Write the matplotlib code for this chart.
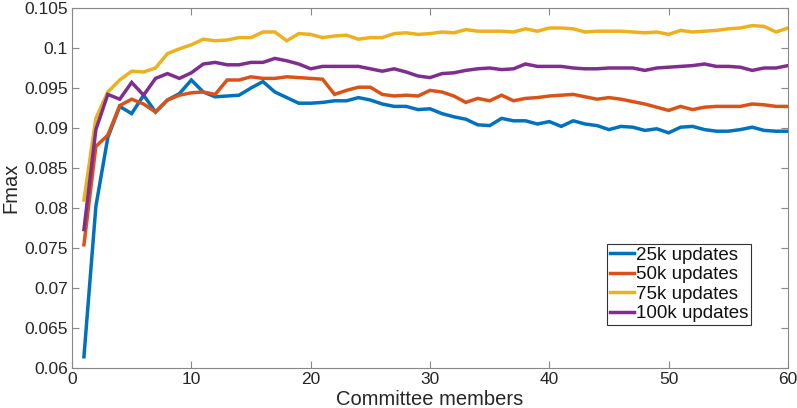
import matplotlib
matplotlib.use("Agg")
import matplotlib.pyplot as plt
import numpy as np

members = list(range(1, 61))

upd_25k = [0.0614, 0.0802, 0.0888, 0.0927, 0.0918, 0.0941, 0.0920, 0.0935, 0.0943, 0.0960,
           0.0945, 0.0939, 0.0940, 0.0941, 0.0950, 0.0958, 0.0945, 0.0938, 0.0931, 0.0931,
           0.0932, 0.0934, 0.0934, 0.0938, 0.0935, 0.0930, 0.0927, 0.0927, 0.0923, 0.0924,
           0.0918, 0.0914, 0.0911, 0.0904, 0.0903, 0.0912, 0.0909, 0.0909, 0.0905, 0.0908,
           0.0902, 0.0909, 0.0905, 0.0903, 0.0898, 0.0902, 0.0901, 0.0897, 0.0899, 0.0894,
           0.0901, 0.0902, 0.0898, 0.0896, 0.0896, 0.0898, 0.0901, 0.0897, 0.0896, 0.0896]

upd_50k = [0.0754, 0.0877, 0.0891, 0.0928, 0.0936, 0.0930, 0.0920, 0.0935, 0.0941, 0.0944,
           0.0945, 0.0942, 0.0960, 0.0960, 0.0964, 0.0962, 0.0962, 0.0964, 0.0963, 0.0962,
           0.0961, 0.0942, 0.0947, 0.0951, 0.0951, 0.0942, 0.0940, 0.0941, 0.0940, 0.0947,
           0.0945, 0.0940, 0.0932, 0.0937, 0.0934, 0.0941, 0.0934, 0.0937, 0.0938, 0.0940,
           0.0941, 0.0942, 0.0939, 0.0936, 0.0938, 0.0936, 0.0933, 0.0930, 0.0926, 0.0922,
           0.0927, 0.0923, 0.0926, 0.0927, 0.0927, 0.0927, 0.0930, 0.0929, 0.0927, 0.0927]

upd_75k = [0.0810, 0.0912, 0.0945, 0.0960, 0.0971, 0.0970, 0.0975, 0.0993, 0.0999, 0.1004,
           0.1011, 0.1009, 0.1010, 0.1013, 0.1013, 0.1020, 0.1020, 0.1009, 0.1018, 0.1017,
           0.1013, 0.1015, 0.1016, 0.1011, 0.1013, 0.1013, 0.1018, 0.1019, 0.1017, 0.1018,
           0.1020, 0.1019, 0.1023, 0.1021, 0.1021, 0.1021, 0.1020, 0.1024, 0.1021, 0.1025,
           0.1025, 0.1024, 0.1020, 0.1021, 0.1021, 0.1021, 0.1020, 0.1019, 0.1020, 0.1017,
           0.1022, 0.1020, 0.1021, 0.1022, 0.1024, 0.1025, 0.1028, 0.1027, 0.1020, 0.1025]

upd_100k = [0.0773, 0.0898, 0.0942, 0.0936, 0.0957, 0.0941, 0.0962, 0.0968, 0.0962, 0.0969,
            0.0980, 0.0982, 0.0979, 0.0979, 0.0982, 0.0982, 0.0987, 0.0984, 0.0980, 0.0974,
            0.0977, 0.0977, 0.0977, 0.0977, 0.0974, 0.0971, 0.0974, 0.0970, 0.0965, 0.0963,
            0.0968, 0.0969, 0.0972, 0.0974, 0.0975, 0.0973, 0.0974, 0.0980, 0.0977, 0.0977,
            0.0977, 0.0975, 0.0974, 0.0974, 0.0975, 0.0975, 0.0975, 0.0972, 0.0975, 0.0976,
            0.0977, 0.0978, 0.0980, 0.0977, 0.0977, 0.0976, 0.0972, 0.0975, 0.0975, 0.0978]

series_labels = ["25k updates", "50k updates", "75k updates", "100k updates"]
colors = ["#0072BD", "#D95319", "#EDB120", "#7E2F8E"]

x_ticks = [0, 10, 20, 30, 40, 50, 60]
y_ticks = [0.06, 0.065, 0.07, 0.075, 0.08, 0.085, 0.09, 0.095, 0.1, 0.105]
y_tick_labels = ["0.06", "0.065", "0.07", "0.075", "0.08", "0.085", "0.09", "0.095", "0.1", "0.105"]

plt.rcParams['font.family'] = ['Liberation Sans', 'DejaVu Sans']

fig = plt.figure(figsize=(7.97, 4.08), dpi=100)
ax = fig.add_axes([72/797, 40/408, 716/797, 360/408])

for vals, lab, col in zip([upd_25k, upd_50k, upd_75k, upd_100k], series_labels, colors):
    ax.plot(members, vals, color=col, lw=2.5, label=lab, solid_joinstyle='miter')

ax.set_xlim(0, 60)
ax.set_ylim(0.06, 0.105)
ax.set_xticks(x_ticks)
ax.set_yticks(y_ticks)
ax.set_yticklabels(y_tick_labels)

axcol = "#888888"
for sp in ax.spines.values():
    sp.set_color(axcol)
    sp.set_linewidth(0.8)
ax.tick_params(direction='in', top=True, right=True, length=5, width=0.8,
               color=axcol, labelsize=12.5, labelcolor="#262626", pad=3)

ax.set_xlabel("Committee members", fontsize=14.5, color="#262626", labelpad=2)
ax.set_ylabel("Fmax", fontsize=14.5, color="#262626", labelpad=3)

leg = ax.legend(loc='upper left', bbox_to_anchor=((607 - 72) / 716, (368 - 244) / 360),
                fontsize=13.5, handlelength=1.3, handletextpad=0.1, borderpad=0.15,
                labelspacing=0.12, fancybox=False, framealpha=1, borderaxespad=0)
leg.get_frame().set_edgecolor("#333333")
leg.get_frame().set_linewidth(0.8)
for t in leg.get_texts():
    t.set_color("#111111")

fig.savefig("out.png", dpi=100)
